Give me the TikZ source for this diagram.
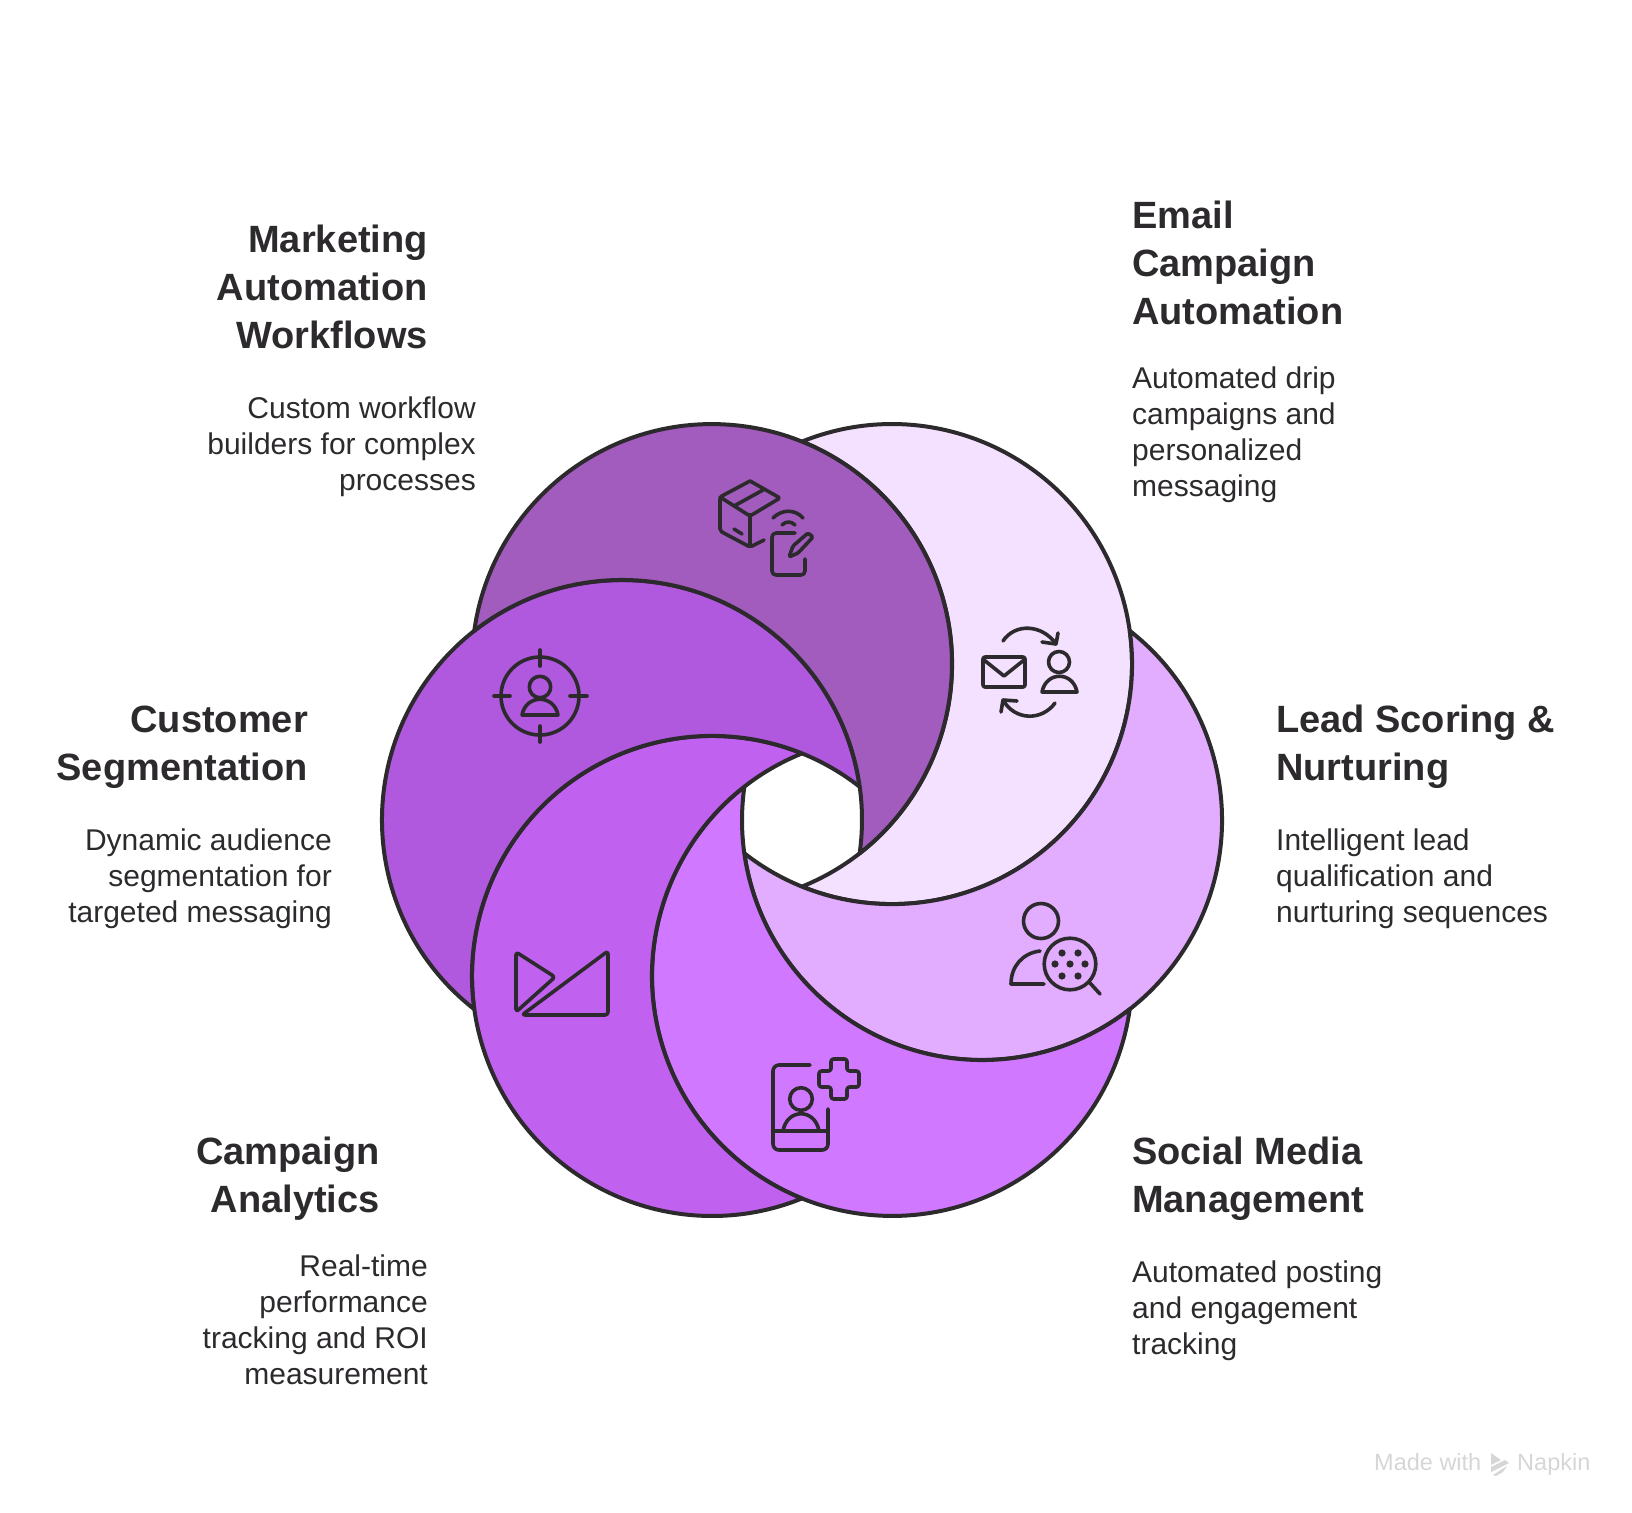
\documentclass[tikz,border=0pt]{standalone}
\usepackage{fontspec}
\setmainfont{Liberation Sans}
\definecolor{inkline}{HTML}{2D2A2E}
\definecolor{marketingfill}{HTML}{A15CBD}
\definecolor{emailfill}{HTML}{F4E0FF}
\definecolor{leadfill}{HTML}{E3ADFF}
\definecolor{socialfill}{HTML}{D078FF}
\definecolor{campaignfill}{HTML}{C161F0}
\definecolor{customerfill}{HTML}{B058DE}
\definecolor{watermark}{HTML}{D6D6D6}
\tikzset{
    spiralline/.style={draw=inkline, line width=4pt, line join=round},
    iconline/.style={draw=inkline, line width=3.6pt, line cap=round, line join=round},
    titletext/.style={inner sep=0pt, text=inkline, font=\bfseries\fontsize{38}{48}\selectfont},
    bodytext/.style={inner sep=0pt, text=inkline, font=\fontsize{30}{36}\selectfont},
    marktext/.style={inner sep=0pt, text=watermark, font=\fontsize{23.5}{28}\selectfont}
}
\begin{document}
\begin{tikzpicture}[x=1pt, y=-1pt]
    \useasboundingbox (0,0) rectangle (1632,1512);

    % crescents, hub at (802,820)
    \begin{scope}[shift={(802,820)}, y=1pt]
        \draw[spiralline, fill=emailfill] (90:378.42) arc[start angle=112.02, end angle=-112.02, radius=240] arc[start angle=-67.98, end angle=67.98, radius=240] -- cycle;
        \draw[spiralline, fill=leadfill] (30:378.42) arc[start angle=52.02, end angle=-172.02, radius=240] arc[start angle=-127.98, end angle=7.98, radius=240] -- cycle;
        \draw[spiralline, fill=socialfill] (-30:378.42) arc[start angle=-7.98, end angle=-232.02, radius=240] arc[start angle=-187.98, end angle=-52.02, radius=240] -- cycle;
        \draw[spiralline, fill=campaignfill] (-90:378.42) arc[start angle=-67.98, end angle=-292.02, radius=240] arc[start angle=-247.98, end angle=-112.02, radius=240] -- cycle;
        \draw[spiralline, fill=customerfill] (210:378.42) arc[start angle=232.02, end angle=7.98, radius=240] arc[start angle=52.02, end angle=187.98, radius=240] -- cycle;
        \draw[spiralline, fill=marketingfill] (150:378.42) arc[start angle=172.02, end angle=-52.02, radius=240] arc[start angle=-7.98, end angle=127.98, radius=240] -- cycle;
    \end{scope}

    % box and tablet
    \draw[iconline, rounded corners=2pt] (750,481) -- (720,497) -- (720,531) -- (750,547) -- (764,540);
    \draw[iconline, rounded corners=2pt] (750,481) -- (780,498) -- (750,516) -- (720,497);
    \draw[iconline] (750,516) -- (750,546);
    \draw[iconline] (734,506) -- (763,490);
    \draw[iconline] (734,529) -- (742,534);
    \draw[iconline] (773,518) .. controls (782,509) and (795,509) .. (803,518);
    \draw[iconline] (782,525) .. controls (786,521) and (791,521) .. (795,525);
    \draw[iconline, rounded corners=4pt] (795,533) -- (772,533) -- (772,575) -- (805,575) -- (805,559);
    \draw[iconline, rounded corners=1.5pt] (789,557) -- (793,546) -- (808,533) -- (813,537) -- (798,553) -- cycle;

    % mail and person
    \draw[iconline, rounded corners=2pt] (983,657) rectangle (1025,687);
    \draw[iconline] (984,660) -- (1004,676) -- (1024,660);
    \draw[iconline] (1059,662) circle[radius=10.5];
    \draw[iconline] (1042,692) .. controls (1046,671) and (1073,671) .. (1077,692) -- cycle;
    \draw[iconline] (1003,641) .. controls (1015,623) and (1042,624) .. (1056,644);
    \draw[iconline] (1058,633) -- (1056,644) -- (1042,642);
    \draw[iconline] (1055,703) .. controls (1042,721) and (1015,721) .. (1003,700);
    \draw[iconline] (1001,712) -- (1003,700) -- (1017,701);

    % target and person
    \draw[iconline] (540,696) circle[radius=39];
    \draw[iconline] (540,650) -- (540,666);
    \draw[iconline] (540,726) -- (540,742);
    \draw[iconline] (494,696) -- (510,696);
    \draw[iconline] (570,696) -- (587,696);
    \draw[iconline] (540,687) circle[radius=10.7];
    \draw[iconline] (522,715) .. controls (526,694) and (554,694) .. (558,715) -- cycle;

    % two triangles
    \draw[iconline, rounded corners=3pt] (516,952) -- (555,977) -- (516,1012) -- cycle;
    \draw[iconline, rounded corners=3pt] (522,1015) -- (608,951) -- (608,1015) -- cycle;

    % phone and plus
    \draw[iconline, rounded corners=6pt] (810,1065) -- (773,1065) -- (773,1150) -- (828,1150) -- (828,1109);
    \draw[iconline] (773,1131) -- (828,1131);
    \draw[iconline] (801,1099) circle[radius=11.3];
    \draw[iconline] (783,1131) .. controls (787,1108) and (815,1108) .. (819,1131);
    \draw[iconline, rounded corners=2.5pt] (831,1059) -- (847,1059) -- (847,1071) -- (859,1071) -- (859,1087) -- (847,1087) -- (847,1099) -- (831,1099) -- (831,1087) -- (819,1087) -- (819,1071) -- (831,1071) -- cycle;

    % person and lens
    \draw[iconline] (1041,921) circle[radius=17.5];
    \draw[iconline] (1040,951) .. controls (1023,953) and (1011,966) .. (1011,984) -- (1044,984);
    \draw[iconline] (1070,964) circle[radius=25.8];
    \draw[iconline] (1090,983) -- (1100,994);
    \fill[inkline] (1062,953) circle[radius=3.6] (1078,953) circle[radius=3.6] (1055,964) circle[radius=3.6] (1070,964) circle[radius=3.6] (1085,964) circle[radius=3.6] (1062,976) circle[radius=3.6] (1078,976) circle[radius=3.6];

    % titles
    \node[titletext, anchor=base east, align=right] (marketingtitle) at (428,348) {Marketing\\Automation\\Workflows};
    \node[titletext, anchor=base west, align=left] (emailtitle) at (1132,324) {Email\\Campaign\\Automation};
    \node[titletext, anchor=base west, align=left] (leadtitle) at (1276,780) {Lead Scoring \&\\Nurturing};
    \node[titletext, anchor=base west, align=left] (socialtitle) at (1132,1212) {Social Media\\Management};
    \node[titletext, anchor=base east, align=right] (campaigntitle) at (380,1212) {Campaign\\Analytics};
    \node[titletext, anchor=base east, align=right] (customertitle) at (308,780) {Customer\\Segmentation};

    % descriptions
    \node[bodytext, anchor=base east, align=right] (marketingbody) at (476,490) {Custom workflow\\builders for complex\\processes};
    \node[bodytext, anchor=base west, align=left] (emailbody) at (1132,496) {Automated drip\\campaigns and\\personalized\\messaging};
    \node[bodytext, anchor=base west, align=left] (leadbody) at (1276,922) {Intelligent lead\\qualification and\\nurturing sequences};
    \node[bodytext, anchor=base west, align=left] (socialbody) at (1132,1354) {Automated posting\\and engagement\\tracking};
    \node[bodytext, anchor=base east, align=right] (campaignbody) at (428,1384) {Real-time\\performance\\tracking and ROI\\measurement};
    \node[bodytext, anchor=base east, align=right] (customerbody) at (332,922) {Dynamic audience\\segmentation for\\targeted messaging};

    % made with
    \node[marktext, anchor=base west] (madewith) at (1374,1470) {Made with};
    \node[marktext, anchor=base west] (napkin) at (1517,1470) {Napkin};
    \fill[watermark] (1491,1453) -- (1501,1460) -- (1491,1465) -- cycle;
    \fill[watermark] (1491,1467) -- (1505,1460) -- (1509,1463) -- (1491,1472) -- cycle;
    \fill[watermark] (1493,1475) -- (1507,1466) -- (1503,1472) -- (1496,1476) -- cycle;
\end{tikzpicture}
\end{document}
